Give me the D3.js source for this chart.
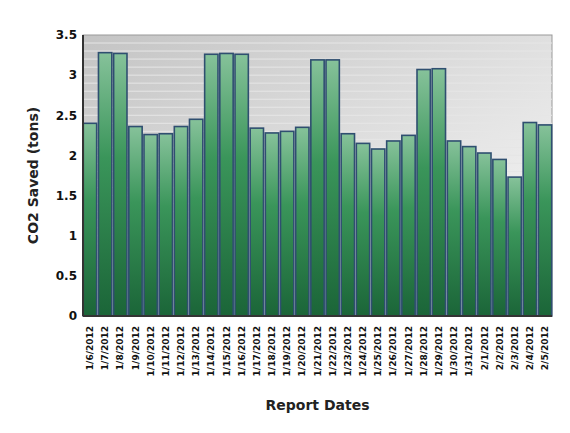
<!DOCTYPE html>
<html><head><meta charset="UTF-8">
<script src="https://d3js.org/d3.v7.min.js"></script>
<style>body{margin:0;background:#fff;font-family:Verdana,"DejaVu Sans",sans-serif;}</style>
</head><body>
<script>
const dates = ['1/6/2012','1/7/2012','1/8/2012','1/9/2012','1/10/2012','1/11/2012','1/12/2012','1/13/2012','1/14/2012','1/15/2012','1/16/2012','1/17/2012','1/18/2012','1/19/2012','1/20/2012','1/21/2012','1/22/2012','1/23/2012','1/24/2012','1/25/2012','1/26/2012','1/27/2012','1/28/2012','1/29/2012','1/30/2012','1/31/2012','2/1/2012','2/2/2012','2/3/2012','2/4/2012','2/5/2012'];
const co2 = [2.40,3.28,3.27,2.36,2.26,2.27,2.36,2.45,3.26,3.27,3.26,2.34,2.28,2.30,2.35,3.19,3.19,2.27,2.15,2.08,2.18,2.25,3.07,3.08,2.18,2.11,2.03,1.95,1.73,2.41,2.38];
const yTicks = [0,0.5,1,1.5,2,2.5,3,3.5];

const W = 570, H = 433;
const m = {top:35, left:83, right:18, bottom:117};
const iw = W - m.left - m.right, ih = H - m.top - m.bottom;
const svg = d3.select('body').append('svg').attr('width',W).attr('height',H);
const defs = svg.append('defs');
const bg = defs.append('linearGradient').attr('id','bg').attr('x1',0).attr('y1',0).attr('x2',1).attr('y2',1);
bg.append('stop').attr('offset','0%').attr('stop-color','#c4c4c4');
bg.append('stop').attr('offset','100%').attr('stop-color','#fbfbfb');
const bar = defs.append('linearGradient').attr('id','bar').attr('x1',0).attr('y1',0).attr('x2',0).attr('y2',1);
bar.append('stop').attr('offset','0%').attr('stop-color','#86c29a');
bar.append('stop').attr('offset','40%').attr('stop-color','#3a955a');
bar.append('stop').attr('offset','100%').attr('stop-color','#1b6538');

const x = d3.scaleBand().domain(dates).range([0,iw]).paddingInner(0.12).paddingOuter(0.02);
const y = d3.scaleLinear().domain([0,3.5]).range([ih,0]);
const g = svg.append('g').attr('transform',`translate(${m.left},${m.top})`);
g.append('rect').attr('width',iw).attr('height',ih).attr('fill','url(#bg)').attr('stroke','#999');
g.selectAll('.grid').data(d3.range(1,35).map(i=>i/10)).join('line')
  .attr('x1',0).attr('x2',iw).attr('y1',d=>y(d)).attr('y2',d=>y(d))
  .attr('stroke','#e6e6e6').attr('stroke-width',1);
g.selectAll('.b').data(co2).join('rect')
  .attr('x',(d,i)=>x(dates[i])).attr('width',x.bandwidth())
  .attr('y',d=>y(d)).attr('height',d=>ih-y(d))
  .attr('fill','url(#bar)').attr('stroke','#2f4f70').attr('stroke-width',1.6);
g.append('line').attr('x1',0).attr('x2',0).attr('y1',0).attr('y2',ih).attr('stroke','#333').attr('stroke-width',2);
g.append('line').attr('x1',0).attr('x2',iw).attr('y1',ih).attr('y2',ih).attr('stroke','#333').attr('stroke-width',2);

const ya = g.append('g').call(d3.axisLeft(y).tickValues(yTicks).tickSize(0).tickPadding(6).tickFormat(d3.format('')));
ya.select('.domain').remove();
ya.selectAll('text').attr('font-size',12).attr('font-weight','bold').attr('font-family','Verdana,"DejaVu Sans",sans-serif').attr('fill','#111');

const xa = g.append('g').attr('transform',`translate(0,${ih})`).call(d3.axisBottom(x).tickSize(0));
xa.select('.domain').remove();
xa.selectAll('text').attr('transform','rotate(-90)').attr('text-anchor','end').attr('dx','-10').attr('dy','0.35em').attr('y',0).attr('x',0)
  .attr('font-size',9).attr('font-weight','bold').attr('font-family','Verdana,"DejaVu Sans",sans-serif').attr('fill','#111');

svg.append('text').attr('x',m.left+iw/2).attr('y',410).attr('text-anchor','middle')
  .attr('font-size',14).attr('font-weight','bold').attr('fill','#222').text('Report Dates');
svg.append('text').attr('transform',`translate(38,${m.top+ih/2}) rotate(-90)`).attr('text-anchor','middle')
  .attr('font-size',14).attr('font-weight','bold').attr('fill','#222').text('CO2 Saved (tons)');
</script>
</body></html>
